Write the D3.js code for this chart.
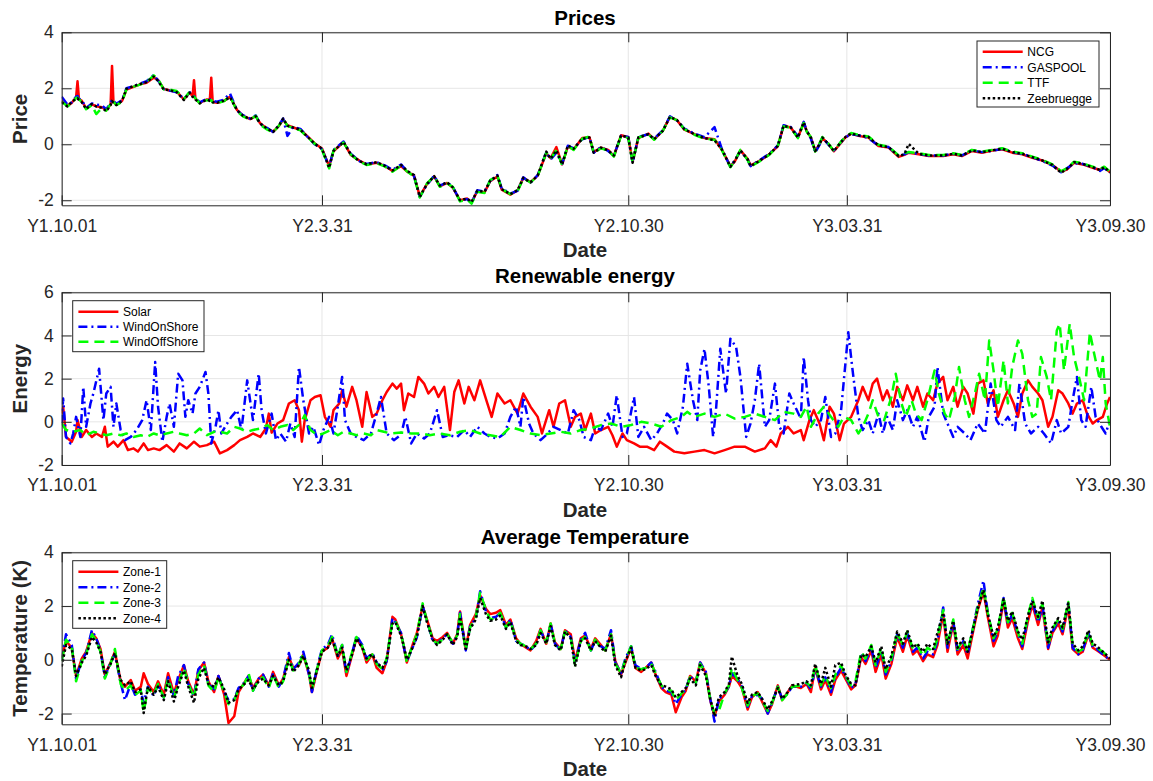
<!DOCTYPE html>
<html>
<head>
<meta charset="utf-8">
<script src="https://cdn.jsdelivr.net/npm/d3@7"></script>
<style>
  body { margin: 0; background: #fff; }
  svg { display: block; }
  text { font-family: "Liberation Sans", Arial, Helvetica, sans-serif; }
</style>
</head>
<body>
<svg id="fig" width="1153" height="781"></svg>
<script>
// ---- shared date axis (day index from Y1.10.01) ----
const xTickDays = [0, 181, 394, 546, 729];
const xTickLabels = ["Y1.10.01", "Y2.3.31", "Y2.10.30", "Y3.03.31", "Y3.09.30"];

// ---- Prices ----
const priceDays = [
  0,4,7,10,11,12,14,17,21,24, 28,31,34,35,36,38,42,45,50,55,
  59,64,67,71,75,80,85,89,91,92, 93,96,101,103,104,105,108,113,117,122,
  126,131,135,138,143,147,151,154,157,161, 166,171,176,181,186,189,196,201,207,212,
  219,225,230,236,240,245,249,254,259,263, 268,272,277,282,285,289,294,298,303,306,
  312,317,321,326,331,337,340,344,348,352, 356,362,367,370,375,380,384,389,394,397,
  401,408,412,418,423,428,433,440,447,454, 459,465,468,472,477,479,485,492,498,502,
  507,512,516,518,521,524,527,529,533,537, 542,545,549,554,561,568,575,582,586,589,
  596,603,613,620,626,633,640,647,654,661, 668,675,682,689,695,699,704,710,717,722,
  725,729];
const priceNCG = [
  1.55,1.38,1.48,1.68,2.25,1.62,1.55,1.28,1.42,1.36, 1.32,1.22,1.42,2.8,1.5,1.42,1.55,1.95,2.05,2.15,
  2.2,2.38,2.3,1.98,1.92,1.88,1.6,1.85,1.72,2.29, 1.62,1.48,1.6,1.58,2.38,1.52,1.48,1.55,1.7,1.22,
  1.02,0.9,1.0,0.75,0.55,0.45,0.65,0.88,0.68,0.6, 0.52,0.28,0.03,-0.15,-0.78,-0.25,0.08,-0.38,-0.58,-0.72,
  -0.66,-0.78,-0.95,-0.78,-0.97,-1.12,-1.85,-1.42,-1.15,-1.5, -1.38,-1.55,-2.0,-1.94,-2.08,-1.68,-1.72,-1.32,-1.15,-1.62,
  -1.8,-1.65,-1.2,-1.35,-1.12,-0.32,-0.5,-0.1,-0.72,-0.08, -0.18,0.22,0.25,-0.28,-0.12,-0.2,-0.42,0.32,0.25,-0.62,
  0.22,0.38,0.18,0.48,0.98,0.85,0.52,0.36,0.22,0.18, -0.18,-0.78,-0.62,-0.22,-0.52,-0.75,-0.6,-0.36,-0.07,0.66,
  0.6,0.24,0.78,0.48,0.24,-0.24,0.0,0.22,0.02,-0.25, 0.06,0.24,0.38,0.3,0.24,-0.06,-0.12,-0.45,-0.38,-0.3,
  -0.36,-0.42,-0.42,-0.36,-0.42,-0.24,-0.3,-0.22,-0.18,-0.3, -0.36,-0.48,-0.58,-0.74,-0.98,-0.9,-0.66,-0.72,-0.84,-0.92,
  -0.82,-1.0];
const priceGASPOOL = [
  1.7,1.42,1.5,1.7,1.72,1.62,1.58,1.3,1.46,1.42, 1.38,1.25,1.48,1.6,1.55,1.45,1.58,2.0,2.08,2.18,
  2.25,2.48,2.28,1.98,1.92,1.86,1.62,1.86,1.76,1.72, 1.66,1.5,1.62,1.6,1.6,1.55,1.52,1.6,1.82,1.2,
  1.04,0.92,1.03,0.72,0.58,0.44,0.68,0.92,0.3,0.62, 0.55,0.26,0.0,-0.18,-0.8,-0.2,0.1,-0.34,-0.6,-0.7,
  -0.64,-0.76,-0.92,-0.72,-0.95,-1.14,-1.88,-1.45,-1.12,-1.48, -1.36,-1.52,-2.02,-1.96,-2.1,-1.64,-1.7,-1.3,-1.1,-1.58,
  -1.76,-1.66,-1.18,-1.38,-1.1,-0.28,-0.55,-0.3,-0.7,-0.05, -0.15,0.18,0.26,-0.3,-0.1,-0.24,-0.4,0.3,0.26,-0.66,
  0.26,0.36,0.2,0.5,1.0,0.84,0.56,0.38,0.25,0.61, -0.16,-0.8,-0.58,-0.24,-0.55,-0.78,-0.58,-0.34,-0.04,0.68,
  0.62,0.28,0.8,0.5,0.2,-0.3,-0.02,0.24,0.0,-0.22, 0.08,0.25,0.36,0.32,0.22,-0.04,-0.1,-0.42,-0.36,-0.28,
  -0.35,-0.4,-0.4,-0.34,-0.4,-0.22,-0.28,-0.24,-0.16,-0.28, -0.34,-0.46,-0.6,-0.76,-1.0,-0.86,-0.68,-0.7,-0.82,-0.95,
  -0.85,-1.02];
const priceTTF = [
  1.52,1.36,1.45,1.66,1.66,1.6,1.52,1.25,1.4,1.08, 1.3,1.2,1.44,1.58,1.52,1.4,1.52,1.96,2.06,2.14,
  2.22,2.46,2.32,1.96,1.95,1.9,1.62,1.88,1.74,1.7, 1.64,1.46,1.58,1.56,1.58,1.5,1.46,1.54,1.72,1.18,
  1.0,0.88,1.02,0.7,0.52,0.42,0.66,0.9,0.66,0.58, 0.5,0.25,0.02,-0.2,-0.86,-0.22,0.06,-0.36,-0.62,-0.74,
  -0.68,-0.8,-0.98,-0.76,-0.96,-1.15,-1.9,-1.4,-1.14,-1.52, -1.4,-1.52,-2.04,-1.98,-2.12,-1.7,-1.74,-1.28,-1.12,-1.6,
  -1.78,-1.68,-1.22,-1.36,-1.14,-0.3,-0.52,-0.2,-0.74,-0.06, -0.2,0.2,0.28,-0.32,-0.14,-0.22,-0.44,0.3,0.22,-0.64,
  0.24,0.36,0.16,0.48,0.96,0.86,0.54,0.34,0.2,0.16, -0.2,-0.82,-0.6,-0.2,-0.56,-0.8,-0.62,-0.38,-0.06,0.64,
  0.58,0.22,0.76,0.46,0.26,-0.26,0.04,0.26,0.04,-0.24, 0.1,0.26,0.4,0.34,0.28,-0.02,-0.08,-0.4,-0.32,-0.28,
  -0.32,-0.38,-0.38,-0.32,-0.38,-0.2,-0.26,-0.2,-0.14,-0.26, -0.32,-0.44,-0.56,-0.72,-0.96,-0.86,-0.62,-0.68,-0.8,-0.88,
  -0.8,-0.98];
const priceZeebruegge = [
  1.5,1.35,1.52,1.62,1.64,1.58,1.5,1.26,1.44,1.35, 1.3,1.18,1.4,1.55,1.48,1.4,1.56,1.98,2.08,2.16,
  2.22,2.42,2.26,1.95,1.94,1.86,1.58,1.84,1.7,1.66, 1.6,1.46,1.6,1.55,1.55,1.5,1.48,1.56,1.68,1.22,
  1.02,0.9,1.0,0.74,0.56,0.44,0.66,0.92,0.66,0.6, 0.52,0.26,0.02,-0.16,-0.84,-0.24,0.08,-0.36,-0.6,-0.72,
  -0.64,-0.78,-0.94,-0.74,-0.94,-1.1,-1.88,-1.42,-1.14,-1.48, -1.36,-1.54,-2.0,-1.94,-2.06,-1.66,-1.7,-1.3,-1.12,-1.6,
  -1.78,-1.64,-1.2,-1.36,-1.12,-0.26,-0.52,-0.22,-0.72,-0.04, -0.16,0.2,0.24,-0.3,-0.12,-0.22,-0.4,0.32,0.24,-0.66,
  0.24,0.36,0.18,0.48,0.98,0.86,0.54,0.36,0.22,0.14, -0.18,-0.8,-0.6,-0.22,-0.54,-0.78,-0.6,-0.36,-0.06,0.66,
  0.6,0.24,0.78,0.48,0.24,-0.24,0.0,0.24,0.02,-0.24, 0.08,0.26,0.38,0.32,0.26,-0.04,-0.1,-0.42,-0.36,0.01,
  -0.34,-0.4,-0.4,-0.34,-0.4,-0.22,-0.28,-0.22,-0.16,-0.28, -0.34,-0.46,-0.58,-0.74,-1.02,-0.88,-0.64,-0.7,-0.82,-0.92,
  -0.82,-1.0];

// ---- Renewable energy: [day, value] ----
const solar = [
  [0,0.38],[1,0.7],[3,-0.7],[7,-0.92],[10,-0.46],[11,0.08],[14,-0.7],[17,-0.38],[21,-0.7],[24,-0.54],
  [28,-0.7],[30,-0.23],[32,-1.15],[36,-0.92],[39,-1.15],[43,-0.85],[46,-1.31],[50,-1.23],[53,-1.38],[57,-1.0],
  [60,-1.31],[64,-1.23],[68,-1.31],[73,-1.08],[78,-1.38],[82,-1.0],[87,-1.23],[92,-0.92],[96,-1.15],[101,-1.08],
  [106,-0.92],[110,-1.46],[115,-1.31],[120,-1.08],[124,-0.85],[129,-0.7],[133,-0.54],[138,-0.7],[142,-0.31],[144,0.38],
  [146,-0.5],[150,-0.08],[154,0.08],[158,0.85],[162,1.0],[165,0.54],[167,-0.92],[169,0.08],[173,1.0],[176,1.15],
  [180,1.23],[183,0.23],[187,-0.23],[189,0.54],[193,0.85],[195,1.46],[198,0.7],[202,1.62],[205,1.0],[209,-0.23],
  [212,1.38],[216,0.23],[219,0.38],[223,1.0],[226,1.38],[230,1.77],[233,1.54],[236,1.77],[238,0.54],[241,1.31],
  [245,1.15],[248,2.08],[252,1.77],[255,1.31],[259,1.62],[262,1.15],[266,1.62],[270,-0.38],[273,1.38],[276,1.92],
  [280,0.85],[283,1.62],[287,1.0],[291,1.92],[296,0.85],[299,0.23],[303,1.31],[308,0.85],[312,1.0],[317,0.38],
  [321,1.31],[326,0.7],[331,0.23],[334,-0.54],[339,0.54],[342,-0.23],[346,0.85],[350,1.0],[354,-0.23],[357,0.23],
  [361,0.38],[364,-0.38],[368,0.38],[371,-0.54],[375,-0.38],[380,-0.23],[383,-0.62],[386,-1.15],[390,-0.54],[393,-0.85],
  [398,-1.0],[402,-1.15],[407,-1.15],[412,-1.31],[416,-0.92],[421,-1.15],[426,-1.38],[433,-1.46],[440,-1.38],[447,-1.31],
  [454,-1.46],[461,-1.31],[468,-1.15],[475,-1.15],[482,-1.38],[489,-1.23],[493,-0.85],[497,-1.15],[500,-0.54],[505,-0.23],
  [509,-0.54],[514,-0.38],[516,-0.85],[520,0.08],[523,0.54],[527,-0.08],[530,-0.85],[534,0.7],[537,0.38],[541,-0.85],
  [544,-0.08],[549,0.23],[554,1.0],[557,1.62],[561,1.0],[564,1.77],[567,2.0],[571,1.0],[574,1.46],[578,0.7],
  [581,1.62],[585,1.0],[588,1.69],[592,1.0],[595,1.62],[599,0.7],[602,1.31],[606,1.0],[609,1.77],[613,2.08],
  [616,1.0],[620,1.62],[623,0.7],[627,1.62],[630,1.31],[634,0.38],[637,1.77],[641,1.92],[644,0.85],[648,1.46],
  [651,0.23],[655,1.0],[658,1.46],[662,0.85],[665,0.23],[668,1.31],[672,1.92],[675,1.62],[679,1.31],[682,1.0],
  [686,-0.23],[689,0.23],[693,1.46],[696,1.31],[700,0.85],[703,0.38],[706,0.85],[710,1.0],[713,0.38],[717,-0.08],
  [720,0.08],[724,0.23],[727,0.85],[729,1.15]];
const windOnShore = [
  [0,-0.08],[1,1.08],[3,-0.7],[6,-1.0],[8,-0.54],[10,0.23],[13,-0.7],[15,1.62],[17,-0.23],[20,0.85],
  [22,1.31],[26,2.46],[29,0.08],[31,1.31],[34,1.62],[36,-0.23],[38,0.85],[41,-0.38],[44,-0.85],[48,-0.7],
  [52,-0.38],[56,0.08],[59,1.0],[62,-0.38],[65,2.77],[67,0.7],[70,-0.92],[73,0.23],[75,0.85],[78,-0.23],
  [81,2.23],[84,1.92],[86,0.23],[88,1.0],[91,0.38],[93,1.31],[96,1.62],[100,2.31],[102,1.31],[104,-1.0],
  [107,-0.23],[109,0.54],[111,-0.54],[115,-0.08],[118,0.23],[122,0.54],[125,-0.38],[129,1.92],[131,1.0],[133,0.08],
  [137,2.23],[139,0.54],[142,-0.54],[146,0.38],[149,-0.85],[152,-0.54],[156,-0.92],[159,-0.08],[162,-0.7],[165,2.54],
  [168,1.0],[172,-0.54],[175,-0.23],[179,-1.08],[182,-0.38],[186,0.23],[189,-0.54],[192,0.7],[195,2.08],[197,0.08],
  [201,-0.54],[205,-0.7],[210,-0.85],[215,-0.54],[219,0.38],[222,1.15],[226,-0.54],[231,-0.85],[236,-0.6],[239,0.23],
  [243,-1.0],[247,-0.54],[252,-0.77],[256,-0.54],[261,0.54],[265,-0.7],[269,-0.62],[275,-0.7],[280,-0.38],[284,-0.7],
  [289,-0.23],[294,-0.54],[298,-0.7],[303,-0.77],[308,-0.54],[312,0.23],[316,0.7],[319,-0.23],[321,1.15],[325,-0.08],
  [328,-0.54],[333,-0.85],[338,-0.54],[342,-0.23],[347,-0.38],[352,-0.54],[356,0.54],[360,0.08],[363,-0.7],[368,-0.85],
  [371,-0.23],[375,-0.38],[380,0.38],[383,-0.23],[386,1.23],[390,-0.7],[393,-0.54],[398,1.15],[401,-0.7],[405,-0.23],
  [410,-0.85],[414,-0.54],[418,-0.08],[421,0.38],[425,0.08],[428,-0.54],[432,0.7],[435,2.69],[439,1.0],[442,0.08],
  [444,2.38],[447,3.38],[450,1.62],[453,-0.7],[455,0.54],[458,3.38],[462,1.31],[465,3.85],[469,3.46],[472,2.08],
  [476,-0.7],[479,-0.08],[482,1.0],[485,2.69],[489,-0.23],[492,0.08],[496,1.77],[499,-0.23],[502,-0.54],[506,1.31],
  [509,0.85],[514,0.15],[516,3.0],[519,1.0],[521,0.08],[524,-0.23],[528,0.08],[531,1.15],[535,-0.7],[538,-0.54],
  [542,0.54],[547,4.15],[550,2.38],[554,0.23],[557,-0.38],[561,0.08],[564,-0.54],[568,0.38],[571,-0.54],[574,0.23],
  [578,-0.38],[581,1.0],[585,0.08],[588,0.54],[592,-0.23],[595,0.23],[600,-0.92],[603,0.23],[607,0.7],[609,2.54],
  [613,0.38],[616,-0.08],[620,-0.7],[623,-0.23],[628,-0.54],[632,-0.85],[637,-0.08],[642,-0.54],[646,1.77],[650,0.08],
  [653,-0.23],[658,0.23],[663,-0.38],[666,1.77],[670,-0.08],[674,-0.54],[679,-0.23],[683,-0.54],[688,-1.0],[692,0.08],
  [695,-0.54],[700,-0.23],[703,1.0],[706,2.08],[709,0.08],[712,-0.23],[716,1.62],[719,0.23],[723,-0.23],[726,-0.54],
  [729,0.08]];
const windOffShore = [
  [0,-0.08],[3,-0.38],[8,-0.46],[13,-0.38],[17,-0.62],[22,-0.46],[27,-0.54],[31,-0.62],[36,-0.54],[41,-0.62],
  [45,-0.54],[50,-0.7],[55,-0.62],[59,-0.7],[64,-0.54],[68,-0.62],[73,-0.54],[78,-0.46],[82,-0.54],[87,-0.62],
  [92,-0.54],[96,-0.31],[101,-0.62],[106,-0.46],[110,-0.46],[115,-0.54],[120,-0.23],[124,-0.31],[129,-0.46],[133,-0.38],
  [138,-0.31],[143,-0.15],[147,-0.38],[152,-0.23],[157,-0.15],[161,-0.38],[166,-0.08],[169,0.31],[173,-0.38],[178,-0.62],
  [182,-0.54],[187,-0.38],[192,-0.62],[196,-0.46],[201,-0.54],[205,-0.62],[210,-0.54],[215,-0.62],[219,-0.38],[224,-0.46],
  [229,-0.54],[236,-0.5],[243,-0.54],[250,-0.54],[256,-0.62],[263,-0.54],[270,-0.62],[277,-0.46],[284,-0.38],[291,-0.54],
  [298,-0.62],[305,-0.7],[312,-0.23],[319,-0.38],[326,-0.54],[333,-0.62],[340,-0.54],[347,-0.46],[354,-0.54],[361,-0.38],
  [368,-0.31],[375,-0.15],[382,-0.08],[389,-0.23],[396,-0.15],[403,0.0],[410,-0.08],[417,-0.23],[424,0.08],[431,0.23],
  [435,0.46],[440,0.23],[447,0.38],[454,0.23],[461,0.38],[468,0.15],[475,0.23],[482,0.38],[489,0.23],[496,0.08],
  [502,0.46],[509,0.38],[514,0.23],[518,0.7],[521,-0.23],[526,0.38],[530,0.7],[535,0.23],[540,-0.23],[544,0.23],
  [549,0.08],[554,-0.54],[557,-0.23],[561,0.38],[564,1.0],[568,0.23],[572,0.08],[577,1.15],[580,2.23],[584,0.85],
  [587,0.23],[591,1.0],[594,0.38],[598,0.08],[602,1.0],[607,2.38],[610,1.31],[614,0.38],[617,0.08],[621,1.15],
  [624,2.54],[628,1.0],[631,0.23],[635,1.31],[638,2.23],[642,1.0],[645,3.77],[648,2.38],[651,0.7],[655,2.85],
  [658,0.85],[661,2.54],[665,3.77],[668,3.15],[672,1.0],[675,0.23],[678,0.38],[681,3.0],[685,2.08],[688,1.0],
  [692,4.23],[694,4.54],[697,2.38],[701,4.54],[704,3.0],[708,1.92],[711,1.0],[715,4.15],[718,3.15],[722,1.92],
  [724,3.0],[726,0.85],[729,-0.23]];

// ---- Average temperature ----
const tempDays = [
  0,3,7,10,14,17,21,24,27,30, 34,37,41,44,48,51,55,57,60,64, 67,71,74,78,81,85,88,92,95,99,
  102,106,109,113,116,120,123,127,130,133, 137,140,144,147,151,154,158,161,165,168, 172,174,178,181,185,188,192,195,198,202,
  205,209,212,216,219,223,226,230,232,
  236,238,240,244,247,251,254,258,261,265, 268,272,275,277,281,284,288,291,295,298, 302,305,309,312,316,319,323,326,330,333,
  337,340,343,347,350,354,357,361,364,368, 371,375,378,382,385,389,392,396,399,403, 406,410,413,417,420,424,427,431,434,437,
  441,444,448,451,454,457,461,464,466,470, 473,477,480,484,487,491,494,498,501,505, 508,
  514,518,521,524,528,531,535,538,542,545, 549,552,556,559,563,566,570,573,577,581, 585,588,592,595,599,602,606,609,613,616,
  620,623,627,630,634,637,641,644,648,651, 655,658,661,665,668,672,675,679,682,686, 689,693,696,700,703,707,710,714,717,720,
  724,729];
const tempZone1 = [
  0.05,0.7,0.45,-0.6,0.05,0.3,1.0,0.8,0.4,-0.55, -0.1,0.3,-0.8,-1.0,-0.75,-1.15,-1.0,-0.5,-0.9,-1.2, -0.8,-1.3,-0.5,-1.25,-0.75,-0.2,-0.8,-1.3,-0.4,-0.1,
  -0.8,-1.2,-0.6,-1.3,-2.35,-2.1,-1.2,-0.85,-0.6,-1.05, -0.7,-0.55,-0.95,-0.45,-0.95,-0.7,0.1,-0.3,-0.2,0.2, -0.55,-1.2,-0.3,0.3,0.45,0.8,0.05,0.4,-0.6,0.2,
  0.8,0.45,-0.1,0.2,-0.3,-0.5,-0.05,1.6,1.5,
  0.95,0.45,-0.1,0.55,1.0,2.0,1.5,0.8,0.7,0.85, 1.0,0.6,0.95,1.8,0.4,1.3,1.7,2.4,1.9,1.7, 1.75,1.85,1.3,1.5,0.8,0.6,0.45,0.35,0.7,1.15,
  0.6,1.35,0.65,0.4,1.1,0.95,-0.05,0.8,0.9,0.4, 0.8,0.55,0.35,0.95,-0.05,-0.55,-0.1,0.45,-0.3,-0.45, -0.3,-0.1,-0.55,-1.05,-1.2,-1.3,-1.95,-1.4,-1.15,-0.6,
  -0.8,-0.1,-0.5,-1.5,-2.1,-1.55,-1.3,-1.0,-0.6,-0.8, -1.05,-1.85,-1.4,-1.2,-1.55,-2.0,-1.65,-0.95,-1.5,-1.2, -0.95,
  -1.05,-0.9,-1.2,-0.3,-1.1,-0.75,-1.3,-0.75,-0.4,-0.7, -1.1,-0.95,0.1,-0.15,0.35,-0.45,0.2,-0.7,-0.15,0.85, 0.3,0.9,0.2,0.35,-0.05,0.2,0.1,0.55,1.7,0.3,
  1.35,0.2,0.55,0.05,1.1,1.85,2.55,1.6,0.5,0.9, 2.2,1.2,1.55,0.8,0.4,1.45,2.05,1.3,1.95,0.4, 1.0,1.35,0.95,2.0,0.4,0.2,0.3,0.95,0.45,0.35,
  0.2,0];
const tempZone2 = [
  0,0.95,0.55,-0.7,0,0.25,1.1,0.8,0.35,-0.65, -0.1,0.2,-0.85,-1.5,-0.9,-1.3,-1.15,-1.6,-1.0,-1.35, -0.9,-1.4,-0.65,-1.35,-0.6,-0.2,-0.9,-1.35,-0.35,-0.1,
  -0.9,-1.1,-0.6,-1.2,-1.5,-1.45,-1.05,-0.85,-0.6,-1.15, -0.7,-0.55,-1.0,-0.5,-1.0,-0.7,0.25,-0.35,-0.1,0.3, -0.55,-1.2,-0.2,0.4,0.55,0.95,0.15,0.55,-0.5,0.25,
  0.9,0.55,0.05,0.25,-0.1,-0.4,-0.05,1.55,1.4,
  1.0,0.45,-0.05,0.45,0.85,2.0,1.45,0.7,0.6,0.8, 0.95,0.6,0.9,1.75,0.35,1.25,1.55,2.55,1.8,1.55, 1.6,1.75,1.2,1.5,0.7,0.6,0.5,0.35,0.6,1.1,
  0.6,1.35,0.6,0.35,1.1,0.85,-0.1,0.75,1.0,0.35, 0.7,0.5,0.4,1.1,-0.1,-0.5,0.05,0.5,-0.2,-0.35, -0.3,-0.1,-0.45,-1.0,-1.15,-1.2,-1.65,-1.3,-1.1,-0.6,
  -0.85,-0.1,-0.45,-1.45,-2.3,-1.45,-1.25,-1.0,-0.5,-0.7, -1.0,-1.75,-1.35,-1.3,-1.45,-2.0,-1.6,-1.0,-1.45,-1.25, -1.0,
  -1.0,-0.85,-1.1,-0.3,-1.0,-0.65,-1.2,-0.65,-0.3,-0.6, -1.05,-0.9,0.25,-0.05,0.45,-0.3,0.35,-0.55,-0.05,0.95, 0.45,1.0,0.3,0.45,0.05,0.3,0.2,0.7,1.95,0.45,
  1.45,0.3,0.7,0.2,1.25,2.05,2.95,1.75,0.7,1.05, 2.3,1.3,1.7,0.95,0.5,1.6,2.2,1.4,2.05,0.45, 1.05,1.45,1.05,2.15,0.45,0.2,0.35,1.0,0.45,0.4,
  0.2,0];
const tempZone3 = [
  -0.05,0.75,0.5,-0.8,-0.05,0.2,0.95,0.7,0.3,-0.7, -0.15,0.4,-0.9,-1.15,-0.95,-1.3,-1.15,-1.95,-1.05,-1.3, -0.9,-1.4,-0.7,-1.4,-0.95,-0.3,-0.9,-1.4,-0.55,-0.2,
  -0.95,-1.2,-0.65,-1.2,-1.65,-1.5,-1.1,-0.9,-0.5,-1.15, -0.75,-0.65,-1.05,-0.55,-1.05,-0.8,0.05,-0.4,-0.15,0.2, -0.5,-1.1,-0.25,0.35,0.5,0.85,0.15,0.55,-0.45,0.3,
  0.85,0.5,0,0.2,-0.15,-0.35,0.05,1.45,1.45,
  0.95,0.5,-0.1,0.55,0.95,2.1,1.45,0.75,0.6,0.75, 0.95,0.65,0.9,1.7,0.35,1.2,1.6,2.5,1.85,1.5, 1.55,1.75,1.2,1.45,0.75,0.6,0.5,0.4,0.6,1.1,
  0.65,1.35,0.6,0.4,1.05,0.85,-0.2,0.7,0.85,0.35, 0.75,0.45,0.35,0.95,-0.15,-0.5,0,0.5,-0.3,-0.35, -0.3,-0.15,-0.5,-0.95,-1.1,-1.15,-1.5,-1.25,-1.1,-0.65,
  -0.85,-0.15,-0.5,-1.5,-2.0,-1.9,-1.25,-0.95,-0.3,-0.75, -1.05,-1.7,-1.35,-1.25,-1.5,-1.9,-1.6,-1.0,-1.5,-1.25, -1.0,
  -0.95,-0.85,-1.0,-0.2,-0.95,-0.6,-1.05,-0.55,-0.2,-0.6, -0.95,-0.8,0.3,0.05,0.55,-0.2,0.45,-0.45,0.05,1.0, 0.55,1.05,0.4,0.55,0.15,0.45,0.3,0.8,1.85,0.55,
  1.5,0.4,0.75,0.3,1.25,1.95,2.7,1.75,0.8,1.15, 2.35,1.4,1.75,1.0,0.6,1.65,2.3,1.55,2.1,0.55, 1.15,1.5,1.15,2.15,0.55,0.3,0.4,1.05,0.55,0.45,
  0.3,0.05];
const tempZone4 = [
  -0.25,0.55,0.4,-0.6,-0.1,0.15,0.85,0.65,0.3,-0.55, -0.15,0.25,-0.75,-0.95,-0.8,-1.2,-1.1,-1.98,-1.0,-1.3, -1.0,-1.5,-0.8,-1.55,-1.0,-0.4,-1.0,-1.6,-0.7,-0.3,
  -0.9,-1.0,-0.65,-1.1,-1.6,-1.5,-1.1,-0.9,-0.75,-1.1, -0.8,-0.7,-0.95,-0.6,-0.95,-0.8,0.0,-0.45,-0.2,0.15, -0.4,-1.05,-0.3,0.3,0.45,0.75,0.15,0.45,-0.4,0.2,
  0.8,0.45,0.05,0.2,-0.1,-0.3,0.0,1.35,1.4,
  0.9,0.5,0.0,0.45,0.85,2.0,1.4,0.75,0.55,0.75, 0.95,0.55,0.85,1.6,0.4,1.15,1.5,2.3,1.7,1.45, 1.5,1.65,1.15,1.4,0.7,0.55,0.5,0.4,0.55,1.0,
  0.6,1.25,0.55,0.35,1.05,0.8,-0.25,0.7,0.8,0.35, 0.7,0.45,0.3,0.9,-0.2,-0.65,-0.05,0.45,-0.3,-0.4, -0.35,-0.2,-0.6,-0.95,-1.0,-1.1,-1.4,-1.2,-1.05,-0.7,
  -0.95,-0.2,-0.6,-1.45,-2.1,-1.4,-1.2,-0.9,0.12,-0.6, -0.9,-1.6,-1.3,-1.2,-1.45,-1.85,-1.55,-1.05,-1.45,-1.2, -0.95,
  -0.9,-0.8,-0.95,-0.15,-0.9,-0.3,-1.0,-0.2,-0.1,-0.55, -0.9,-0.95,0.2,0.1,0.5,-0.1,0.5,-0.35,0.15,1.05, 0.6,1.1,0.45,0.6,0.3,0.6,0.4,1.0,1.75,0.6,
  1.45,0.45,0.8,0.3,1.2,1.9,2.6,1.7,0.85,1.2, 2.25,1.45,1.8,1.05,0.75,1.65,2.2,1.6,2.2,0.65, 1.2,1.55,1.2,2.1,0.6,0.35,0.5,1.1,0.6,0.5,
  0.3,0.05];

// ---- styles ----
const RED = "#ff0000", BLUE = "#0000ff", GREEN = "#00ff00", BLACK = "#000000";
const SOLID = null, DASHDOT = "9,4,2,4", DASHED = "10,6", DOTTED = "2.5,2.5";

const zip = (days, vals) => days.slice(0, Math.min(days.length, vals.length)).map((d, i) => [d, vals[i]]);

const panels = [
  {
    id: "p1", top: 32.3, bottom: 205.3, yDomain: [-2.18, 4], yTicks: [-2, 0, 2, 4],
    title: "Prices", titleY: 25, ylabel: "Price",
    series: [
      { name: "NCG", data: zip(priceDays, priceNCG), color: RED, dash: SOLID },
      { name: "GASPOOL", data: zip(priceDays, priceGASPOOL), color: BLUE, dash: DASHDOT },
      { name: "TTF", data: zip(priceDays, priceTTF), color: GREEN, dash: DASHED },
      { name: "Zeebruegge", data: zip(priceDays, priceZeebruegge), color: BLACK, dash: DOTTED }
    ],
    legend: { x: 977, y: 41, w: 122, h: 66, first: 10.7, step: 15.5 }
  },
  {
    id: "p2", top: 292.3, bottom: 465, yDomain: [-2, 6], yTicks: [-2, 0, 2, 4, 6],
    title: "Renewable energy", titleY: 283, ylabel: "Energy",
    series: [
      { name: "Solar", data: solar, color: RED, dash: SOLID },
      { name: "WindOnShore", data: windOnShore, color: BLUE, dash: DASHDOT },
      { name: "WindOffShore", data: windOffShore, color: GREEN, dash: DASHED }
    ],
    legend: { x: 72.7, y: 300.7, w: 131.3, h: 51, first: 11, step: 15 }
  },
  {
    id: "p3", top: 552.3, bottom: 724.3, yDomain: [-2.4, 4], yTicks: [-2, 0, 2, 4],
    title: "Average Temperature", titleY: 544, ylabel: "Temperature (K)",
    series: [
      { name: "Zone-1", data: zip(tempDays, tempZone1), color: RED, dash: SOLID },
      { name: "Zone-2", data: zip(tempDays, tempZone2), color: BLUE, dash: DASHDOT },
      { name: "Zone-3", data: zip(tempDays, tempZone3), color: GREEN, dash: DASHED },
      { name: "Zone-4", data: zip(tempDays, tempZone4), color: BLACK, dash: DOTTED }
    ],
    legend: { x: 72.7, y: 560.7, w: 94, h: 67.6, first: 11, step: 15.5 }
  }
];

const svg = d3.select("#fig");
const LEFT = 61.7, RIGHT = 1110;
const AXIS = "#262626", GRID = "#e6e6e6", TICKLEN = 10;
const x = d3.scaleLinear().domain([0, 729]).range([LEFT, RIGHT]);

panels.forEach(p => {
  const y = d3.scaleLinear().domain(p.yDomain).range([p.bottom, p.top]);
  const g = svg.append("g");

  // plot background
  g.append("rect").attr("x", LEFT).attr("y", p.top)
    .attr("width", RIGHT - LEFT).attr("height", p.bottom - p.top).attr("fill", "#fff");

  // grid
  g.append("g").selectAll("line").data(p.yTicks).join("line")
    .attr("x1", LEFT).attr("x2", RIGHT)
    .attr("y1", d => y(d)).attr("y2", d => y(d))
    .attr("stroke", GRID).attr("stroke-width", 1);
  g.append("g").selectAll("line").data(xTickDays).join("line")
    .attr("x1", d => x(d)).attr("x2", d => x(d))
    .attr("y1", p.top).attr("y2", p.bottom)
    .attr("stroke", GRID).attr("stroke-width", 1);

  // clipped data lines
  const clipId = "clip-" + p.id;
  svg.append("clipPath").attr("id", clipId).append("rect")
    .attr("x", LEFT).attr("y", p.top).attr("width", RIGHT - LEFT).attr("height", p.bottom - p.top);
  const line = d3.line().x(d => x(d[0])).y(d => y(d[1]));
  const lines = g.append("g").attr("clip-path", `url(#${clipId})`);
  p.series.forEach(s => {
    lines.append("path").datum(s.data)
      .attr("d", line)
      .attr("fill", "none")
      .attr("stroke", s.color)
      .attr("stroke-width", 2.5)
      .attr("stroke-linejoin", "round")
      .attr("stroke-dasharray", s.dash);
  });

  // axes via d3-axis (inward ticks), on all four sides
  const fmt = d => String(d);
  const axL = g.append("g").attr("transform", `translate(${LEFT},0)`)
    .call(d3.axisLeft(y).tickValues(p.yTicks).tickFormat(fmt).tickSizeInner(-TICKLEN).tickSizeOuter(0).tickPadding(8));
  const axR = g.append("g").attr("transform", `translate(${RIGHT},0)`)
    .call(d3.axisRight(y).tickValues(p.yTicks).tickFormat("").tickSizeInner(-TICKLEN).tickSizeOuter(0));
  const axB = g.append("g").attr("transform", `translate(0,${p.bottom})`)
    .call(d3.axisBottom(x).tickValues(xTickDays).tickFormat((d, i) => xTickLabels[i])
      .tickSizeInner(-TICKLEN).tickSizeOuter(0).tickPadding(14));
  const axT = g.append("g").attr("transform", `translate(0,${p.top})`)
    .call(d3.axisTop(x).tickValues(xTickDays).tickFormat("").tickSizeInner(-TICKLEN).tickSizeOuter(0));

  [axL, axR, axB, axT].forEach(a => {
    a.select(".domain").attr("stroke", AXIS).attr("stroke-width", 1);
    a.selectAll(".tick line").attr("stroke", AXIS).attr("stroke-width", 1);
    a.selectAll(".tick text")
      .attr("fill", AXIS)
      .style("font-size", "17.5px")
      .style("font-family", '"Liberation Sans", Arial, Helvetica, sans-serif');
  });

  // title
  g.append("text").attr("x", 585).attr("y", p.titleY)
    .attr("text-anchor", "middle")
    .style("font-size", "20.5px").style("font-weight", "bold").attr("fill", "#000")
    .text(p.title);

  // x label
  g.append("text").attr("x", 585).attr("y", p.bottom + 52)
    .attr("text-anchor", "middle")
    .style("font-size", "20.5px").style("font-weight", "bold").attr("fill", AXIS)
    .text("Date");

  // y label
  const cy = (p.top + p.bottom) / 2;
  g.append("text")
    .attr("transform", `translate(27,${cy}) rotate(-90)`)
    .attr("text-anchor", "middle")
    .style("font-size", "20.5px").style("font-weight", "bold").attr("fill", AXIS)
    .text(p.ylabel);

  // legend
  const L = p.legend;
  const lg = g.append("g");
  lg.append("rect").attr("x", L.x).attr("y", L.y).attr("width", L.w).attr("height", L.h)
    .attr("fill", "#fff").attr("stroke", AXIS).attr("stroke-width", 1);
  p.series.forEach((s, i) => {
    const ry = L.y + L.first + i * L.step;
    lg.append("line")
      .attr("x1", L.x + 5.7).attr("x2", L.x + 45.7)
      .attr("y1", ry).attr("y2", ry)
      .attr("stroke", s.color).attr("stroke-width", 2.5)
      .attr("stroke-dasharray", s.dash);
    lg.append("text").attr("x", L.x + 50.3).attr("y", ry + 4.3)
      .style("font-size", "12px").attr("fill", "#000")
      .text(s.name);
  });
});
</script>
</body>
</html>
